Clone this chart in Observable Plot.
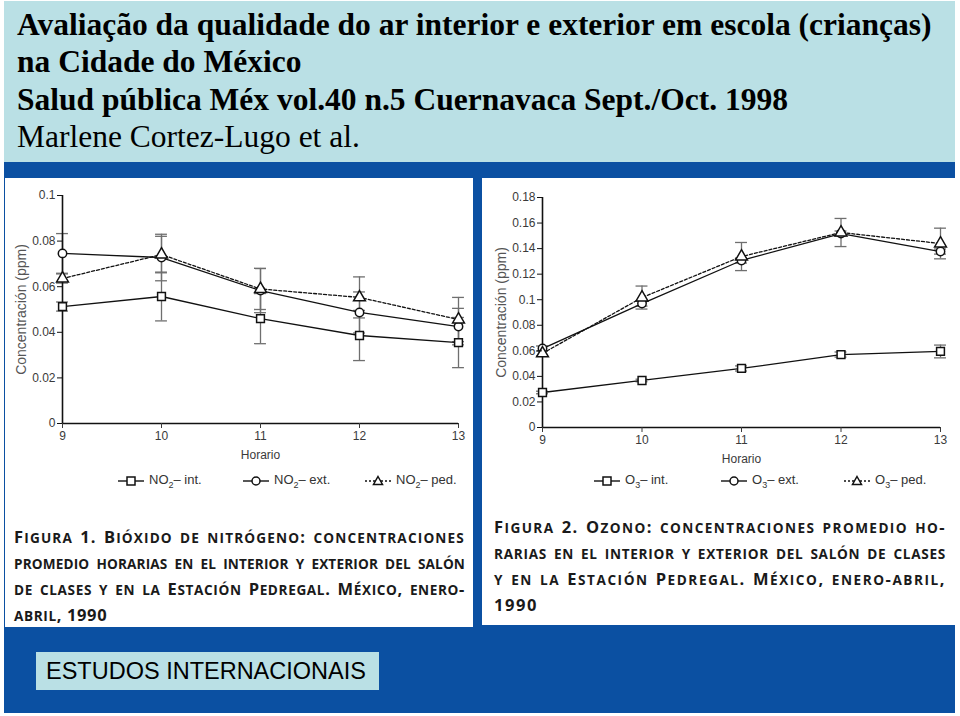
<!DOCTYPE html>
<html>
<head>
<meta charset="utf-8">
<script src="https://cdn.jsdelivr.net/npm/d3@7"></script>
<script src="https://cdn.jsdelivr.net/npm/@observablehq/plot@0.6"></script>
<style>
  html, body { margin: 0; padding: 0; background: #fff; }
  #root { position: relative; width: 960px; height: 716px; overflow: hidden; background: #fff; }
  .abs { position: absolute; }
  #titleband { left: 4px; top: 1px; width: 951px; height: 161px; background: #bae0e5; }
  #darkband { left: 4px; top: 162px; width: 951px; height: 551px; background: #0b50a2; }
  .panel { background: #fff; }
  .ttl { font-family: "Liberation Serif", "Times New Roman", serif; font-size: 31.5px; color: #000; white-space: nowrap; line-height: 1; }
  .legend { font-family: "Liberation Sans", Arial, sans-serif; font-size: 13px; color: #333; white-space: nowrap; }
  .legend sub { font-size: 9px; }
  .cap { font-family: "Open Sans", "Liberation Sans", sans-serif; font-weight: 700; font-size: 16.5px; color: #1a1a1a; line-height: 25px; }
  .cap div { text-align: justify; text-align-last: justify; white-space: nowrap; }
  .cap div.last { text-align-last: left; }
  .cap .sc { font-size: 13.6px; }
  #estudos { left: 36px; top: 652px; width: 343px; height: 38px; background: #bae0e5; font-family: "Liberation Sans", Arial, sans-serif; font-size: 23.5px; color: #000; line-height: 38px; box-sizing: border-box; padding-left: 10px; }
</style>
</head>
<body>
<div id="root">
  <div id="titleband" class="abs"></div>
  <div class="abs ttl" style="left:17px; top:9px; font-weight:700;">Avaliação da qualidade do ar interior e exterior em escola (crianças)</div>
  <div class="abs ttl" style="left:17px; top:46px; font-weight:700;">na Cidade do México</div>
  <div class="abs ttl" style="left:17px; top:84px; font-weight:700;">Salud pública Méx vol.40 n.5 Cuernavaca Sept./Oct. 1998</div>
  <div class="abs ttl" style="left:17px; top:121px; font-weight:400;">Marlene Cortez-Lugo et al.</div>
  <div id="darkband" class="abs"></div>
  <div id="panelL" class="abs panel" style="left:5px; top:178px; width:468px; height:449px;"></div>
  <div id="panelR" class="abs panel" style="left:482px; top:178px; width:473px; height:447px;"></div>
  <div id="chartL" class="abs" style="left:5px; top:178px;"></div>
  <div id="chartR" class="abs" style="left:481px; top:178px;"></div>
  <div id="legendL" class="abs legend" style="left:0; top:472px;"></div>
  <div id="legendR" class="abs legend" style="left:0; top:472px;"></div>
  <div id="capL" class="abs cap" style="left:14px; top:524px; width:451px;"></div>
  <div id="capR" class="abs cap" style="left:494px; top:514px; width:452px;"></div>
  <div id="estudos" class="abs">ESTUDOS INTERNACIONAIS</div>
</div>
<script>
// ---- data ----
const hours = [9, 10, 11, 12, 13];

const no2Int = [0.0513, 0.0557, 0.0460, 0.0386, 0.0355];
const no2IntSd = [0.002, 0.0107, 0.011, 0.011, 0.011];
const no2Ext = [0.0746, 0.0728, 0.0583, 0.0487, 0.0425];
const no2ExtSd = [0.0087, 0.0102, 0.0097, 0.009, 0.008];
const no2Ped = [0.0636, 0.0741, 0.0590, 0.0553, 0.0456];
const no2PedSd = [0.002, 0.008, 0.009, 0.009, 0.0097];

const o3Int = [0.0274, 0.0368, 0.0462, 0.0571, 0.0595];
const o3IntSd = [0.001, 0.001, 0.002, 0.002, 0.005];
const o3Ext = [0.0618, 0.0970, 0.1307, 0.1518, 0.1377];
const o3ExtSd = [0.002, 0.002, 0.002, 0.002, 0.002];
const o3Ped = [0.0580, 0.1017, 0.1338, 0.1526, 0.1440];
const o3PedSd = [0.002, 0.009, 0.011, 0.011, 0.012];

const no2Ticks = [0, 0.02, 0.04, 0.06, 0.08, 0.1];
const o3Ticks = [0, 0.02, 0.04, 0.06, 0.08, 0.1, 0.12, 0.14, 0.16, 0.18];
const seriesSymbols = ["square", "circle", "triangle"];

const captionL = ["Figura 1. Bióxido de nitrógeno: concentraciones", "promedio horarias en el interior y exterior del salón",
  "de clases y en la Estación Pedregal. México, enero-", "abril, 1990"];
const captionR = ["Figura 2. Ozono: concentraciones promedio ho-", "rarias en el interior y exterior del salón de clases",
  "y en la Estación Pedregal. México, enero-abril,", "1990"];

function rows(vals, sds, key) {
  return hours.map((h, i) => ({x: h, y: vals[i], sd: sds[i], s: key}));
}

function chart({series, ticks, yMax, width, height, mL, mR, mT, mB}) {
  const all = series.flat();
  const marks = [];
  marks.push(Plot.ruleX(all, {x: "x", y1: d => d.y - d.sd, y2: d => d.y + d.sd, stroke: "#6f6f6f", strokeWidth: 1.3}));
  marks.push(Plot.ruleY(all, {y: d => d.y + d.sd, x1: d => d.x - 0.06, x2: d => d.x + 0.06, stroke: "#6f6f6f", strokeWidth: 1.3}));
  marks.push(Plot.ruleY(all, {y: d => d.y - d.sd, x1: d => d.x - 0.06, x2: d => d.x + 0.06, stroke: "#6f6f6f", strokeWidth: 1.3}));
  marks.push(Plot.ruleX([9], {stroke: "#111", strokeWidth: 1.6}));
  marks.push(Plot.ruleY([0], {stroke: "#111", strokeWidth: 1.6}));
  series.forEach((rs, i) => {
    marks.push(Plot.line(rs, {x: "x", y: "y", stroke: "#111", strokeWidth: 1.3, strokeDasharray: i === 2 ? "3,2" : null}));
  });
  series.forEach((rs, i) => {
    marks.push(Plot.dot(rs, {x: "x", y: "y", symbol: seriesSymbols[i], r: i === 1 ? 4.2 : 4.4, fill: "white", stroke: "#111", strokeWidth: 1.5}));
  });
  marks.push(Plot.axisY({ticks, tickFormat: d => String(+d.toFixed(3)), tickSize: 5, tickPadding: 2, stroke: "#111",
    label: "Concentración (ppm)", labelAnchor: "center", labelArrow: "none", labelOffset: 46, fontSize: 12}));
  marks.push(Plot.axisX({ticks: hours, tickFormat: d => String(d), tickSize: 5, tickPadding: 3,
    label: "Horario", labelAnchor: "center", labelArrow: "none", labelOffset: 35, fontSize: 12}));
  return Plot.plot({
    width, height, marginLeft: mL, marginRight: mR, marginTop: mT, marginBottom: mB,
    x: {domain: [9, 13]},
    y: {domain: [0, yMax]},
    style: {fontFamily: "Liberation Sans, Arial, sans-serif", color: "#3a3a3a", background: "transparent", overflow: "visible"},
    marks
  });
}

const left = chart({
  series: [rows(no2Int, no2IntSd, "int"), rows(no2Ext, no2ExtSd, "ext"), rows(no2Ped, no2PedSd, "ped")],
  ticks: no2Ticks, yMax: 0.1, width: 467, height: 290, mL: 57, mR: 14, mT: 17, mB: 45
});
document.getElementById("chartL").appendChild(left);

const right = chart({
  series: [rows(o3Int, o3IntSd, "int"), rows(o3Ext, o3ExtSd, "ext"), rows(o3Ped, o3PedSd, "ped")],
  ticks: o3Ticks, yMax: 0.18, width: 474, height: 294, mL: 61, mR: 15, mT: 19, mB: 45
});
document.getElementById("chartR").appendChild(right);

for (const svg of [left, right]) {
  svg.querySelectorAll('g[aria-label="y-axis label"] text').forEach(t => { t.setAttribute("font-size", 14); t.setAttribute("fill", "#555"); });
}

// ---- legends ----
const legendNames = [
  ["NO<sub>2</sub>– int.", "NO<sub>2</sub>– ext.", "NO<sub>2</sub>– ped."],
  ["O<sub>3</sub>– int.", "O<sub>3</sub>– ext.", "O<sub>3</sub>– ped."]
];
const legendX = [[117, 242, 364], [593, 720, 843]];
function symbolSvg(sym, dashed) {
  const shapes = {
    square: '<rect x="10" y="5" width="8" height="8" fill="white" stroke="#111" stroke-width="1.5"/>',
    circle: '<circle cx="14" cy="9" r="4" fill="white" stroke="#111" stroke-width="1.5"/>',
    triangle: '<path d="M14,4.5 L18.5,12.5 L9.5,12.5 Z" fill="white" stroke="#111" stroke-width="1.5"/>'
  };
  return `<svg width="28" height="18" style="vertical-align:middle"><line x1="1" x2="27" y1="9" y2="9" stroke="#111" stroke-width="1.4" ${dashed ? 'stroke-dasharray="2,2"' : ''}/>${shapes[sym]}</svg>`;
}
[["legendL", 0], ["legendR", 1]].forEach(([id, k]) => {
  const el = document.getElementById(id);
  el.innerHTML = legendNames[k].map((n, i) =>
    `<span class="abs" style="left:${legendX[k][i]}px; top:0; white-space:nowrap;">${symbolSvg(seriesSymbols[i], i === 2)}<span style="margin-left:4px; vertical-align:middle;">${n}</span></span>`
  ).join("");
});

// ---- captions (small caps, letter-spaced to fill each line like the scan) ----
function smallCaps(line) {
  return line.replace(/[a-záéíóúñ]+/g, m => `<span class="sc">${m.toUpperCase()}</span>`);
}
function fillCaption(id, lines) {
  const box = document.getElementById(id);
  const W = box.clientWidth;
  box.innerHTML = lines.map(l => `<div class="last"><span>${smallCaps(l)}</span></div>`).join("");
  const divs = [...box.children];
  let lastLs = 0;
  divs.forEach((div, i) => {
    const span = div.firstElementChild;
    const natural = span.getBoundingClientRect().width;
    const nChars = lines[i].replace(/\s/g, "").length;
    const spaces = (lines[i].match(/\s/g) || []).length;
    if (i < lines.length - 1) {
      const target = W - spaces * 2.5 - 2;
      lastLs = Math.max(0, (target - natural) / nChars);
      div.style.letterSpacing = lastLs.toFixed(2) + "px";
      div.classList.remove("last");
    } else {
      div.style.letterSpacing = lastLs.toFixed(2) + "px";
    }
  });
}
fillCaption("capL", captionL);
fillCaption("capR", captionR);
</script>
</body>
</html>
